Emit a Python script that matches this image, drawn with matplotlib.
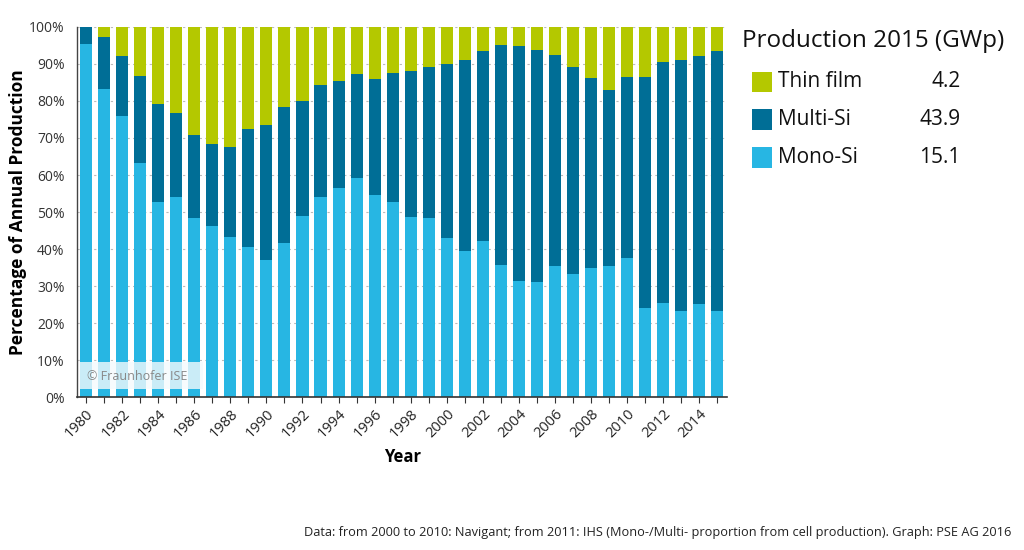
import numpy as np
import matplotlib.pyplot as plt
from matplotlib.patches import Rectangle

years = list(range(1980, 2016))

# percent shares (top of each segment)
mono_si = [95.5, 83.3, 76.0, 63.2, 52.6, 54.0, 48.5, 46.3, 43.3, 40.5,
           37.1, 41.7, 48.8, 54.1, 56.6, 59.3, 54.6, 52.8, 48.7, 48.5,
           43.1, 39.4, 42.3, 35.7, 31.3, 31.0, 35.5, 33.2, 34.9, 35.3,
           37.7, 24.2, 25.5, 23.2, 25.1, 23.2]
mono_multi_top = [100.0, 97.3, 92.1, 86.8, 79.2, 76.8, 70.9, 68.3, 67.7, 72.3,
                  73.4, 78.4, 80.0, 84.2, 85.5, 87.4, 85.9, 87.6, 88.2, 89.1,
                  90.0, 91.1, 93.5, 95.0, 94.9, 93.9, 92.5, 89.3, 86.2, 83.1,
                  86.6, 86.4, 90.5, 91.2, 92.1, 93.5]

multi_si = [t - m for t, m in zip(mono_multi_top, mono_si)]
thin_film = [100.0 - t for t in mono_multi_top]

legend_labels = ["Thin film", "Multi-Si", "Mono-Si"]
legend_values = ["4.2", "43.9", "15.1"]

C_THIN = "#B4C800"
C_MULTI = "#006E96"
C_MONO = "#27B6E3"

plt.rcParams['font.family'] = ['Open Sans', 'DejaVu Sans']

fig = plt.figure(figsize=(10.24, 5.5), dpi=100)
ax = fig.add_axes([0.0752, 0.278, 0.635, 0.673])

x = np.arange(len(years))
w = 0.67
ax.bar(x, mono_si, width=w, color=C_MONO, zorder=2)
ax.bar(x, multi_si, width=w, bottom=mono_si, color=C_MULTI, zorder=2)
ax.bar(x, thin_film, width=w, bottom=mono_multi_top, color=C_THIN, zorder=2)

ax.set_xlim(-0.5, len(years) - 0.45)
ax.set_ylim(0, 100)
ax.set_yticks(np.arange(0, 101, 10))
ax.set_yticklabels([f"{v}%" for v in range(0, 101, 10)], fontsize=10, color="#333333")
ax.yaxis.grid(True, linestyle=(0, (2, 3)), color="#BBBBBB", linewidth=0.8, zorder=0)
ax.tick_params(axis='y', length=0, pad=9)

ax.set_xticks(x)
ax.set_xticklabels([str(y) if y % 2 == 0 else "" for y in years],
                   rotation=45, ha='right', rotation_mode='anchor', fontsize=10.5,
                   color="#222222")
ax.tick_params(axis='x', length=4, width=0.8, color="#333333", pad=3)

for s in ['top', 'right']:
    ax.spines[s].set_visible(False)
ax.spines['left'].set_color("#444444")
ax.spines['bottom'].set_color("#333333")
ax.spines['left'].set_linewidth(1.0)
ax.spines['bottom'].set_linewidth(1.2)

ax.set_ylabel("Percentage of Annual Production", fontsize=12.5, fontweight='bold', labelpad=1)
ax.set_xlabel("Year", fontsize=12, fontweight='bold', labelpad=5)

# watermark
ax.add_patch(Rectangle((-0.35, 2.1), 6.85, 7.4, facecolor="#F4FAFD", alpha=0.8,
                       edgecolor="none", zorder=3))
ax.text(0.05, 5.7, "© Fraunhofer ISE", fontsize=9, color="#888888",
        va='center', ha='left', zorder=4)

# legend panel
fig.text(0.725, 0.925, "Production 2015 (GWp)", fontsize=17.5, color="#111111",
         va='center', ha='left')
legend_colors = [C_THIN, C_MULTI, C_MONO]
legend_y = [0.851, 0.782, 0.714]
for lab, val, col, yy in zip(legend_labels, legend_values, legend_colors, legend_y):
    fig.patches.append(Rectangle((0.7345, yy - 0.019), 0.0195, 0.038, facecolor=col,
                                 edgecolor='none', transform=fig.transFigure, figure=fig))
    fig.text(0.760, yy, lab, fontsize=15, color="#111111", va='center', ha='left')
    fig.text(0.938, yy, val, fontsize=15, color="#111111", va='center', ha='right')

fig.text(0.988, 0.031, "Data: from 2000 to 2010: Navigant; from 2011: IHS "
         "(Mono-/Multi- proportion from cell production). Graph: PSE AG 2016",
         fontsize=9.2, color="#222222", ha='right', va='center')

fig.savefig("out.png", dpi=100, facecolor="white")
